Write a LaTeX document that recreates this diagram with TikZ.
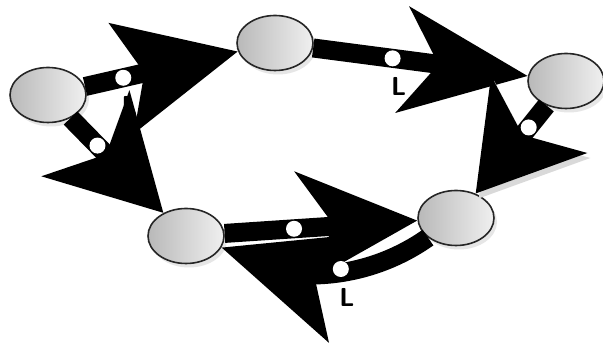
\documentclass[tikz,border=0pt]{standalone}
\usepackage{tikz}
\usetikzlibrary{arrows.meta,positioning,shapes.geometric,shadows}
\tikzset{
  state/.style={ellipse,draw=black!85,line width=1.6pt,minimum width=76pt,minimum height=55pt,left color=gray!55,middle color=gray!22,right color=gray!12,drop shadow={opacity=.2,shadow xshift=3pt,shadow yshift=-4pt}},
  link/.style={line width=19pt,draw=black,preaction={draw=black!15,transform canvas={xshift=3pt,yshift=-5pt}}},
  letter/.style={font=\sffamily\bfseries\fontsize{26}{26}\selectfont,text=black,inner sep=0pt},
  tag/.style={circle,fill=white,minimum size=16pt,inner sep=0pt,label={[letter,xshift=6pt,yshift=8pt]-90:L}}
}
\begin{document}
\begin{tikzpicture}[x=1pt,y=1pt]
  \useasboundingbox (0,0) rectangle (603,358);
  \node[state] (a) at (48,263) {};
  \node[state] (b) at (275,315) {};
  \node[state] (c) at (566,277) {};
  \node[state] (d) at (186,122) {};
  \node[state] (e) at (456,140) {};

  \draw[link,-{Stealth[length=118pt,width=110pt,inset=22pt]}] (a) -- node[tag,pos=.25] (ab) {} (b);
  \draw[link,-{Stealth[length=110pt,width=120pt,inset=28pt]}] (a) -- node[tag,pos=.29] (ad) {} (d);
  \draw[link,-{Stealth[length=125pt,width=105pt,inset=35pt]}] (b) -- node[tag,pos=.37] (bc) {} (c);
  \draw[link,-{Stealth[length=100pt,width=120pt,inset=25pt]}] (c) -- node[tag,pos=.25] (ce) {} (e);
  \draw[link,-{Stealth[length=118pt,width=112pt,inset=35pt]}] (d) -- node[tag,pos=.36] (de) {} (e);
  \draw[link,-{Stealth[length=130pt,width=112pt,inset=32pt]}] (e) to[out=215,in=-18] node[tag,pos=.44] (ed) {} (d);
\end{tikzpicture}
\end{document}
